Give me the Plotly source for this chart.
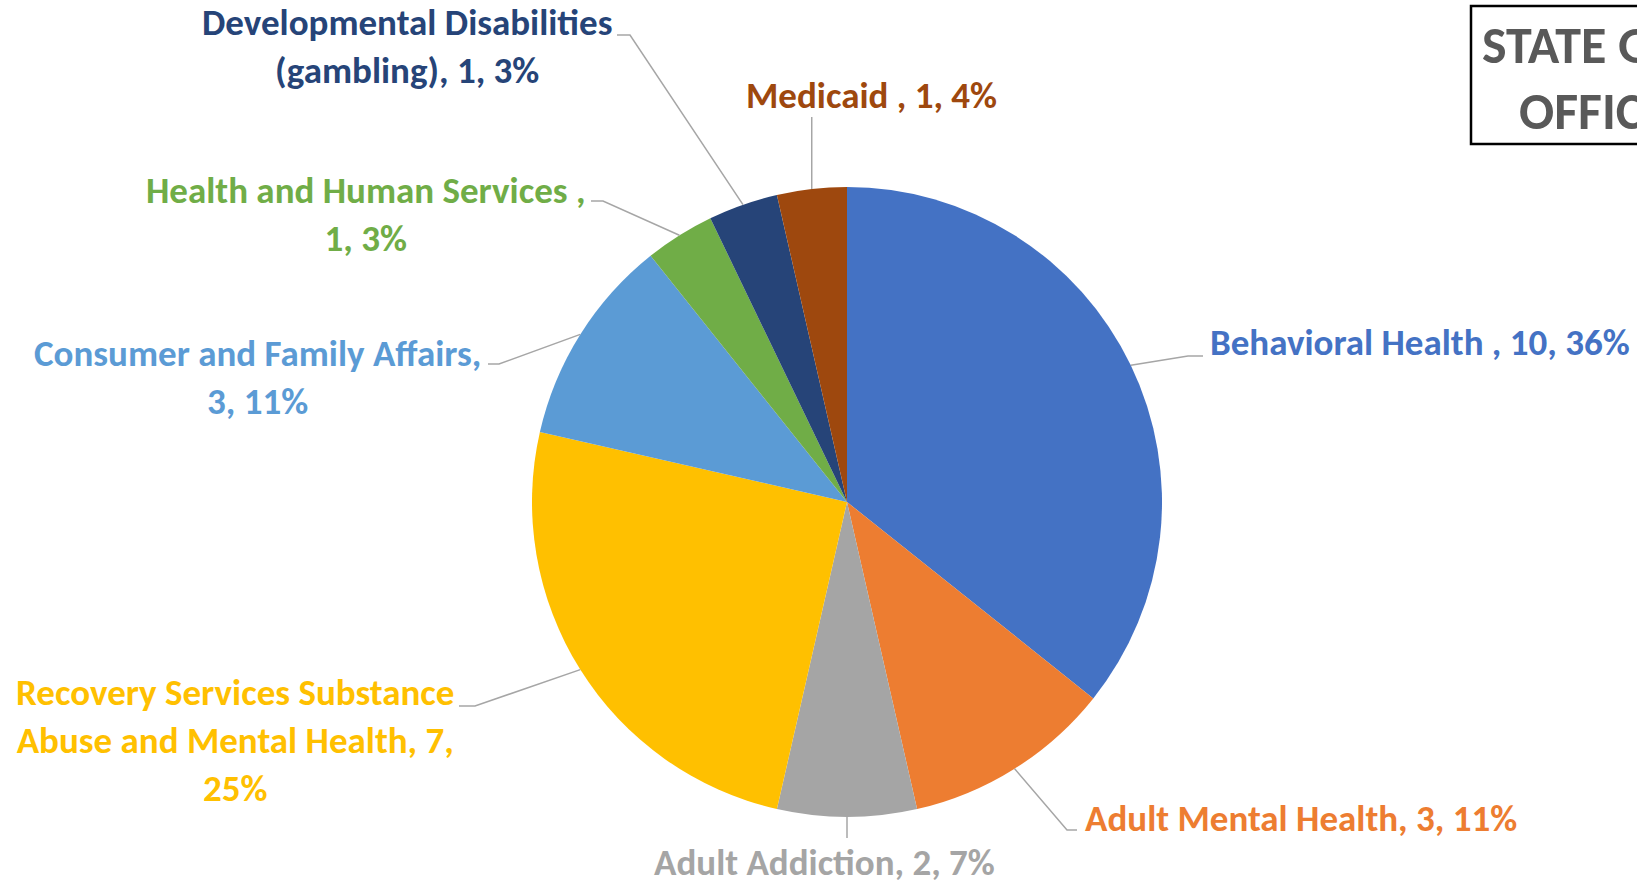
import math
import plotly.graph_objects as go

# data
labels = ["Behavioral Health ", "Adult Mental Health", "Adult Addiction",
          "Recovery Services Substance Abuse and Mental Health",
          "Consumer and Family Affairs", "Health and Human Services ",
          "Developmental Disabilities (gambling)", "Medicaid "]
values = [10, 3, 2, 7, 3, 1, 1, 1]
label_text = [
    "Behavioral Health , 10, 36%",
    "Adult Mental Health, 3, 11%",
    "Adult Addiction, 2, 7%",
    "Recovery Services Substance<br>Abuse and Mental Health, 7,<br>25%",
    "Consumer and Family Affairs,<br>3, 11%",
    "Health and Human Services ,<br>1, 3%",
    "Developmental Disabilities<br>(gambling), 1, 3%",
    "Medicaid , 1, 4%",
]
colors = ["#4472C4", "#ED7D31", "#A5A5A5", "#FFC000",
          "#5B9BD5", "#70AD47", "#264478", "#9E480E"]

W, H = 1637, 882
CX, CY, R = 847, 502, 315
FONT = "Carlito, 'Liberation Sans Narrow', 'Open Sans', sans-serif"


def px(x, y):
    return x / W, 1 - y / H


# label placement (pixels): text anchor, elbow points near the text
label_pos = [
    dict(x=1208, y=343, xanchor="left", elbow=[(1188, 356), (1203, 356)]),
    dict(x=1083, y=818, xanchor="left", elbow=[(1067, 830), (1077, 830)]),
    dict(x=824, y=862, xanchor="center", elbow=[(None, 838)]),
    dict(x=235, y=740, xanchor="center", elbow=[(475, 706), (459, 706)]),
    dict(x=257, y=377, xanchor="center", elbow=[(499, 364), (488, 364)]),
    dict(x=365, y=214, xanchor="center", elbow=[(603, 201), (591, 201)]),
    dict(x=407, y=47, xanchor="center", elbow=[(630, 35), (617, 35)]),
    dict(x=871, y=95, xanchor="center", elbow=[(None, 117)]),
]

fig = go.Figure()
dx0, dy0 = px(CX - R, CY + R)
dx1, dy1 = px(CX + R, CY - R)
fig.add_trace(go.Pie(
    labels=labels, values=values, sort=False, direction="clockwise",
    rotation=0, textinfo="none", hoverinfo="label+value+percent",
    marker=dict(colors=colors, line=dict(width=0)),
    domain=dict(x=[dx0, dx1], y=[dy0, dy1]),
    showlegend=False,
))

total = sum(values)
shapes = []
annotations = []
cum = 0
for i, v in enumerate(values):
    mid = (cum + v / 2) / total * 2 * math.pi
    cum += v
    ex = CX + R * math.sin(mid)
    ey = CY - R * math.cos(mid)
    pts = [(ex, ey)]
    for (x, y) in label_pos[i]["elbow"]:
        pts.append((ex if x is None else x, y))
    path = ""
    for j, (x, y) in enumerate(pts):
        fx, fy = px(x, y)
        path += ("M" if j == 0 else "L") + f" {fx} {fy} "
    shapes.append(dict(type="path", xref="paper", yref="paper", path=path,
                       line=dict(color="#A6A6A6", width=1.5)))
    lp = label_pos[i]
    ax, ay = px(lp["x"], lp["y"])
    annotations.append(dict(
        x=ax, y=ay, xref="paper", yref="paper", text=label_text[i],
        showarrow=False, xanchor=lp["xanchor"], yanchor="middle",
        align="center",
        font=dict(family=FONT, size=37, color=colors[i], weight="bold"),
    ))

# title box, cut off at the right edge
bx0, by0 = px(1471, 6)
bx1, by1 = px(1760, 144)
shapes.append(dict(type="rect", xref="paper", yref="paper",
                   x0=bx0, y0=by1, x1=bx1, y1=by0,
                   line=dict(color="black", width=2.5), fillcolor="white",
                   layer="below"))
for txt, x, y in [("STATE GRANT", 1480, 45), ("OFFICES", 1517, 111)]:
    tx, ty = px(x, y)
    annotations.append(dict(
        x=tx, y=ty, xref="paper", yref="paper", text=txt, showarrow=False,
        xanchor="left", yanchor="middle",
        font=dict(family=FONT, size=52, color="#595959", weight="bold"),
    ))

fig.update_layout(
    width=W, height=H,
    margin=dict(l=0, r=0, t=0, b=0),
    paper_bgcolor="white", plot_bgcolor="white",
    shapes=shapes, annotations=annotations,
)

fig.write_html("out.html", config={"displayModeBar": False},
               post_script="document.body.style.margin='0';"
                           "document.body.style.overflow='hidden';")
